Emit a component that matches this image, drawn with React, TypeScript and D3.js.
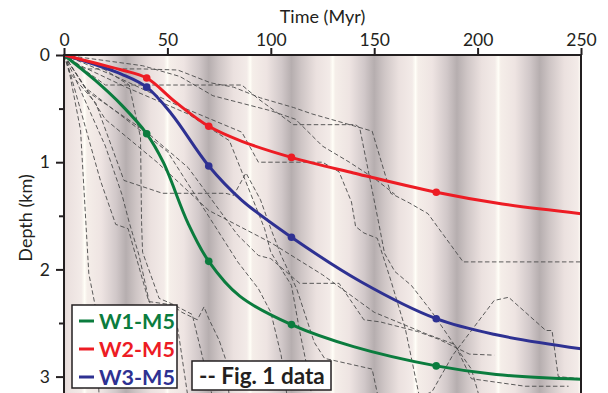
import React, { useEffect, useRef } from "react";
import * as d3 from "d3";

// axis ticks
const timeTicks = [0, 50, 100, 150, 200, 250];
const depthTicks = [0, 1, 2, 3];
const depthMinorTicks = [0.5, 1.5, 2.5];

// background shading bands start at each highlight (Myr)
const stripeStarts = [-30, 10, 50, 90, 130, 170, 210, 250];

// model curves [time Myr, depth km]
const w1Curve: [number, number][] = [
  [0, 0], [15, 0.235], [28, 0.47], [40, 0.735], [48, 1.0], [60, 1.57], [70, 1.925],
  [85, 2.25], [110, 2.515], [140, 2.72], [180, 2.9], [209, 2.98], [250, 3.025],
];
const w2Curve: [number, number][] = [
  [0, 0], [15, 0.075], [28, 0.14], [40, 0.215], [54, 0.44], [70, 0.665], [86, 0.805],
  [110, 0.955], [140, 1.1], [180, 1.28], [212, 1.39], [250, 1.48],
];
const w3Curve: [number, number][] = [
  [0, 0], [15, 0.09], [28, 0.18], [40, 0.3], [52, 0.55], [70, 1.035], [86, 1.355],
  [110, 1.7], [144, 2.12], [180, 2.46], [209, 2.61], [250, 2.74],
];
const markerTimes = [40, 70, 110, 180];

const seriesNames = ["W1-M5", "W2-M5", "W3-M5"];
const seriesColors = ["#0b7c3e", "#ed1c24", "#2e3192"];
const seriesCurves = [w1Curve, w2Curve, w3Curve];

// "Fig. 1 data" dashed histories
const fig1Data: [number, number][][] = [
  [[0, 0], [10, 0.13], [38, 0.13], [55, 0.14], [71, 0.26], [82, 0.3], [95, 0.4], [111, 0.49], [120, 0.55], [140, 0.66], [149, 0.71], [158, 1.29], [167, 1.38], [176, 1.48], [193, 1.93], [250, 1.93]],
  [[0, 0], [20, 0.28], [86, 0.28], [94, 0.41], [111, 0.65], [141, 0.65], [143, 0.68], [152, 1.55], [155, 1.85], [160, 2.02], [168, 2.15], [178, 2.4], [189, 2.71], [197, 2.93], [201, 3.2]],
  [[0, 0], [25, 0.2], [55, 0.47], [86, 0.72], [94, 1.0], [125, 1.0], [133, 1.09], [139, 1.37], [141, 1.6], [145, 1.66], [151.5, 1.71], [158, 2.1], [165, 2.55], [172, 3.2]],
  [[0, 0], [1.5, 0.05], [8, 0.7], [12, 2.04], [15.2, 2.35], [17, 3.2]],
  [[0, 0], [3, 0.17], [17.6, 1.17], [25, 1.58], [31, 1.62], [41, 2.3], [52, 2.33], [57, 2.4], [64.5, 2.47], [67.7, 2.35], [70, 2.46], [75, 2.66], [78, 2.83], [80, 3.2]],
  [[0, 0], [2.5, 0.16], [15.4, 0.45], [29, 1.17], [47.6, 1.29], [78.2, 1.29], [82, 1.31], [88, 1.1], [95, 1.35], [100, 1.62], [105, 1.87], [112.5, 2.18], [121, 2.68], [126, 2.83], [149, 2.93], [152, 3.2]],
  [[160, 3.3], [178, 3.14], [188, 2.8], [208, 2.29], [215, 2.26], [233, 2.57], [236, 2.57], [239, 3.0], [250, 3.02]],
  [[0, 0], [12, 0.35], [40, 0.72], [60, 1.05], [84, 1.68], [94, 1.87], [100, 1.9], [114, 2.13], [133, 2.13], [145, 2.47], [153, 2.49], [171, 2.58], [181, 2.65], [196, 2.79], [208, 2.8]],
  [[0, 0], [15, 0.08], [31.5, 0.28], [37, 0.77], [37.5, 1.56], [38, 1.84], [46, 2.27], [52, 2.32], [62, 2.42], [68, 2.9], [72, 3.2]],
  [[0, 0], [10, 0.3], [30, 0.6], [50, 0.9], [84, 1.93], [94, 2.18], [100, 2.4], [105, 2.8], [108, 3.2]],
  [[0, 0], [8, 0.1], [30, 0.3], [60, 0.55], [80, 0.8], [97, 1.62], [100, 1.84], [110, 2.15], [114, 2.58], [117, 2.86], [120, 3.2]],
  [[0, 0], [20, 0.6], [45, 1.0], [70, 1.45], [100, 1.75], [125, 2.05], [150, 2.4], [175, 2.6], [189, 2.7], [197, 3.02], [223, 3.09], [244, 3.09]],
  [[0, 0], [5, 0.2], [20, 0.85], [28, 1.3], [31.5, 1.56], [36.3, 1.87], [41.2, 2.3], [46, 2.45], [55, 2.55], [60, 3.2]],
  [[0, 0], [38, 0.1], [56, 0.2], [72, 0.38], [86, 0.45], [100, 0.52], [112, 0.6], [125, 0.85], [138, 1.0], [150, 1.15], [160, 1.3]],
];

const W = 608;
const H = 393;
const FONT = "Lato, 'Open Sans', sans-serif";

const App: React.FC = () => {
  const ref = useRef<SVGSVGElement>(null);

  useEffect(() => {
    if (!ref.current) return;
    const svg = d3.select(ref.current);
    svg.selectAll("*").remove();

    const left = 64, right = 581, top = 55;
    const x = d3.scaleLinear().domain([0, 250]).range([left, right]);
    const y = d3.scaleLinear().domain([0, 3]).range([top, top + 3 * 107.2]);

    const defs = svg.append("defs");
    const grad = defs.append("linearGradient").attr("id", "stripe").attr("x1", 0).attr("x2", 1).attr("y1", 0).attr("y2", 0);
    const stops: [number, string][] = [
      [0, "#fffef6"], [0.03, "#f5eee9"], [0.2, "#eee4e2"], [0.38, "#d1c8c9"], [0.5, "#b6aeaf"],
      [0.62, "#cec5c5"], [0.8, "#ebe1df"], [0.96, "#f3ebe8"], [1, "#fffef6"],
    ];
    stops.forEach(([o, c]) => grad.append("stop").attr("offset", o).attr("stop-color", c));
    defs.append("clipPath").attr("id", "plotclip")
      .append("rect").attr("x", left).attr("y", top).attr("width", right - left).attr("height", H - top);

    const plot = svg.append("g").attr("clip-path", "url(#plotclip)");

    // shaded bands
    plot.selectAll("rect.band").data(stripeStarts).join("rect")
      .attr("class", "band")
      .attr("x", (d) => x(d))
      .attr("width", (d) => x(d + 40) - x(d))
      .attr("y", top)
      .attr("height", H - top)
      .attr("fill", "url(#stripe)");

    const line = d3.line<[number, number]>().x((d) => x(d[0])).y((d) => y(d[1]));

    // fig 1 data
    plot.selectAll("path.fig1").data(fig1Data).join("path")
      .attr("class", "fig1")
      .attr("d", (d) => line(d))
      .attr("fill", "none")
      .attr("stroke", "#4a4a4a")
      .attr("stroke-width", 0.9)
      .attr("stroke-dasharray", "4.5,2.5");

    const smooth = d3.line<[number, number]>().x((d) => x(d[0])).y((d) => y(d[1])).curve(d3.curveCatmullRom.alpha(0.5));
    [0, 2, 1].forEach((i) => {
      plot.append("path")
        .attr("d", smooth(seriesCurves[i]))
        .attr("fill", "none")
        .attr("stroke", seriesColors[i])
        .attr("stroke-width", 3);
      plot.selectAll(null).data(seriesCurves[i].filter((p) => markerTimes.includes(p[0]))).join("circle")
        .attr("cx", (d) => x(d[0]))
        .attr("cy", (d) => y(d[1]))
        .attr("r", 3.8)
        .attr("fill", seriesColors[i]);
    });

    // frame
    const frame = svg.append("g").attr("stroke", "#231f20").attr("stroke-width", 2).attr("fill", "none");
    frame.append("line").attr("x1", left - 1).attr("x2", right + 1).attr("y1", top).attr("y2", top);
    frame.append("line").attr("x1", left).attr("x2", left).attr("y1", top).attr("y2", H);
    frame.append("line").attr("x1", right).attr("x2", right).attr("y1", top).attr("y2", H);

    // top axis
    const gx = svg.append("g").attr("transform", `translate(0,${top})`)
      .call(d3.axisTop(x).tickValues(timeTicks).tickSize(7).tickSizeOuter(0).tickPadding(2));
    gx.select(".domain").remove();
    gx.selectAll("line").attr("stroke", "#231f20").attr("stroke-width", 2);
    gx.selectAll("text").attr("font-family", FONT).attr("font-size", 17.5).attr("fill", "#231f20");

    // left axis
    const gy = svg.append("g").attr("transform", `translate(${left},0)`)
      .call(d3.axisLeft(y).tickValues(depthTicks).tickSize(8).tickSizeOuter(0).tickPadding(6).tickFormat(d3.format("d")));
    gy.select(".domain").remove();
    gy.selectAll("line").attr("stroke", "#231f20").attr("stroke-width", 2);
    gy.selectAll("text").attr("font-family", FONT).attr("font-size", 17.5).attr("fill", "#231f20");
    const gm = svg.append("g").attr("transform", `translate(${left},0)`)
      .call(d3.axisLeft(y).tickValues(depthMinorTicks).tickSize(5).tickSizeOuter(0).tickFormat(() => ""));
    gm.select(".domain").remove();
    gm.selectAll("line").attr("stroke", "#231f20").attr("stroke-width", 2);

    // axis titles
    svg.append("text").attr("x", (left + right) / 2).attr("y", 23).attr("text-anchor", "middle")
      .attr("font-family", FONT).attr("font-size", 18).attr("fill", "#231f20").text("Time (Myr)");
    svg.append("text").attr("transform", `translate(32,218) rotate(-90)`).attr("text-anchor", "middle")
      .attr("font-family", FONT).attr("font-size", 18).attr("fill", "#231f20").text("Depth (km)");

    // legend
    const lg = svg.append("g");
    lg.append("rect").attr("x", 72).attr("y", 305).attr("width", 105).attr("height", 83)
      .attr("fill", "#fff").attr("stroke", "#231f20").attr("stroke-width", 1.5);
    seriesNames.forEach((name, i) => {
      const cy = 321 + i * 28;
      lg.append("line").attr("x1", 79).attr("x2", 94).attr("y1", cy).attr("y2", cy)
        .attr("stroke", seriesColors[i]).attr("stroke-width", 3);
      lg.append("text").attr("x", 99).attr("y", cy + 8)
        .attr("font-family", FONT).attr("font-weight", 700).attr("font-size", 21.5)
        .attr("fill", seriesColors[i]).text(name);
    });

    const fg = svg.append("g");
    fg.append("rect").attr("x", 192).attr("y", 361).attr("width", 139).attr("height", 29)
      .attr("fill", "#fff").attr("stroke", "#231f20").attr("stroke-width", 1.5);
    fg.append("text").attr("x", 199).attr("y", 384)
      .attr("font-family", FONT).attr("font-weight", 700).attr("font-size", 22.5)
      .attr("fill", "#231f20").text("-- Fig. 1 data");
  }, []);

  return (
    <svg ref={ref} width={W} height={H} style={{ position: "absolute", left: 0, top: 0, background: "#fff" }} />
  );
};

export default App;
